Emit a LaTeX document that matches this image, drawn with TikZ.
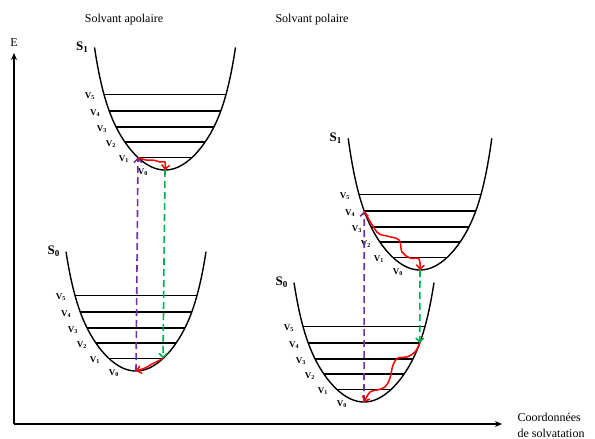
\documentclass[tikz,border=0pt]{standalone}
\usepackage{fontspec}
\setmainfont{Liberation Serif}
\usepackage{xcolor}
\usetikzlibrary{arrows.meta}

\definecolor{vio}{RGB}{112,48,160}
\definecolor{grn}{RGB}{0,176,80}
\definecolor{rouge}{RGB}{255,0,0}

\tikzset{
  well/.style={line width=1.4pt},
  level/.style={line width=1.6pt},
  vlab/.style={anchor=east,xshift=-9pt,yshift=-2pt,inner sep=0pt,font=\fontsize{9}{10}\selectfont\bfseries},
  slab/.style={anchor=east,xshift=-6pt,inner sep=0pt,font=\fontsize{13}{14}\selectfont\bfseries},
  absorb/.style={vio,line width=1.6pt,dash pattern=on 7pt off 4pt,-{Straight Barb[length=4pt,width=8pt]}},
  emit/.style={grn,line width=1.6pt,dash pattern=on 7pt off 4pt,-{Straight Barb[length=4pt,width=8pt]}},
  relax/.style={rouge,line width=1.5pt,-{Straight Barb[length=4pt,width=8pt]}}
}

\begin{document}
\begin{tikzpicture}[x=1pt,y=-1pt,font=\fontsize{12}{16}\selectfont,
  declare function={hh(\u)=1.7123*\u*\u+0.403*(abs(\u)/4)^8;}]
\useasboundingbox (0,0) rectangle (595,439);

% axes
\coordinate (O) at (14,424);
\node (E) at (14,43) {E};
\draw[line width=1.4pt,-{Stealth[length=7pt,width=6pt]}] (O) -- (14,53);
\draw[line width=1.4pt,-{Stealth[length=7pt,width=6pt]}] (O) -- (502,424) coordinate (xend);
\node[anchor=west,align=left] (coord) at (514,425) {Coordonnées\\de solvatation};

\node (apol) at (124,20) {Solvant apolaire};
\node (pol) at (312,20) {Solvant polaire};

% potential wells with vibrational levels
\foreach \nm/\vx/\vy/\ut/\st in {a/165/170/7.05/1, b/136/371/7.0/0, c/420/270/7.18/1, d/364/402/7.0/0}{
  \begin{scope}[shift={(\vx,\vy)}]
    \draw[well] plot[domain=-\ut:\ut,samples=90,smooth] ({10*\x},{-hh(\x)});
    \coordinate (\nm) at (0,0);
    \coordinate (\nm-tl) at ({-10*\ut},{-hh(\ut)});
    \node[vlab,xshift=-8pt] (\nm-v0) at (\nm) {V\textsubscript{0}};
    \foreach \u [count=\k] in {2.7,4.0,4.9,5.57,6.1}{
      \coordinate (\nm-l\k) at ({-10*\u},{-hh(\u)});
      \coordinate (\nm-r\k) at ({10*\u},{-hh(\u)});
      \draw[level] (\nm-l\k) -- (\nm-r\k);
      \node[vlab] (\nm-v\k) at (\nm-l\k) {V\textsubscript{\k}};
    }
    \node[slab] (\nm-S) at (\nm-tl) {S\textsubscript{\st}};
  \end{scope}
}

% apolar solvent
\draw[absorb] (b) -- (a-l1);
\draw[emit] (a) -- (b-r1);
\draw[relax] plot[smooth,tension=.6] coordinates {(a-l1) (146,160) (153,160) (160,162) (165,162) (a)};
\draw[relax] plot[smooth,tension=.6] coordinates {(b-r1) (158,361) (152,364) (145,368) (b)};

% polar solvent
\draw[absorb] (d) -- (c-l4);
\draw[emit] (c) -- (d-r4);
\draw[relax] plot[smooth,tension=.6] coordinates {(c-l4) (377,232) (387,236) (399,240) (402,252) (410,258) (419,259) (c)};
\draw[relax] plot[smooth,tension=.6] coordinates {(d-r4) (415,352) (407,357) (398,358) (393,365) (390,378) (385,387) (377,390) (370,392) (d)};
\end{tikzpicture}
\end{document}
